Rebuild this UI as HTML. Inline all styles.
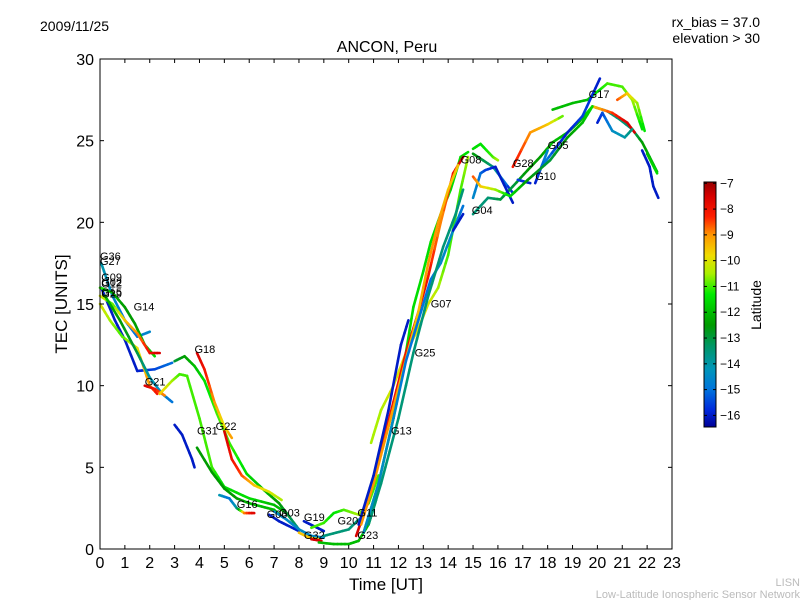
<!DOCTYPE html>
<html><head><meta charset="utf-8"><style>
body{margin:0;background:#fff;}
svg{display:block;font-family:"Liberation Sans","DejaVu Sans",sans-serif;}
</style></head><body>
<svg id="chart" width="800" height="600" viewBox="0 0 800 600">
<text x="40" y="31" font-size="14">2009/11/25</text>
<text x="760" y="27" font-size="14" text-anchor="end">rx_bias = 37.0</text>
<text x="760" y="43" font-size="14" text-anchor="end">elevation &gt; 30</text>
<text x="387" y="52" font-size="16" text-anchor="middle">ANCON, Peru</text>
<text x="386" y="590" font-size="17" text-anchor="middle">Time [UT]</text>
<text x="67" y="304" font-size="17" text-anchor="middle" transform="rotate(-90 67 304)">TEC [UNITS]</text>
<text x="761" y="305" font-size="14" text-anchor="middle" transform="rotate(-90 761 305)">Latitude</text>
<text x="800" y="586" font-size="11" fill="#bbb" text-anchor="end">LISN</text>
<text x="800" y="598" font-size="11" fill="#bbb" text-anchor="end">Low-Latitude Ionospheric Sensor Network</text>
<g id="marks"></g>
<g id="axes"></g>
<g id="cbar"></g>
</svg>
<script>
const xTicks=[0,1,2,3,4,5,6,7,8,9,10,11,12,13,14,15,16,17,18,19,20,21,22,23];
const yTicks=[0,5,10,15,20,25,30];
const cbTicks=[-7,-8,-9,-10,-11,-12,-13,-14,-15,-16];
const trackTimes=[
[0.05,0.6,1.0,1.5,2.2,2.9],
[0.05,0.5,1.0,1.5,2.0],
[0,0.5,1.0,1.4,1.8,2.2],
[0,0.5,1.0,1.5,2.0,2.4],
[0,0.4,0.9,1.5,2.0,2.3],
[0.2,0.8,1.5,2.0,2.5,2.9],
[1.8,2.2,2.6],
[2.4,2.9,3.2,3.5,4.0,4.5,5.0,6.0,7.0,7.5],
[3.0,3.4,3.8,4.2,4.7,5.2,5.9,6.6,7.2,7.6,8.0],
[3.9,4.2,4.6,5.0,5.3],
[3.0,3.3,3.7,3.8],
[3.9,4.5,5.0,5.5,6.0,6.5,7.0,7.3],
[5.0,5.3,5.7,6.2,6.8,7.3],
[4.8,5.2,5.5,5.8,6.2],
[6.8,7.2,7.6,8.0],
[7.0,7.5,8.0,8.5,9.0],
[8.2,8.6,9.0],
[8.5,9.0,9.4,9.8,10.4,10.8,11.2],
[8.0,8.4,8.8],
[8.5,8.9],
[9.0,9.5,10.0,10.4],
[8.8,9.4,10.0,10.4,10.8,11.1],
[10.9,11.3,11.8,12.3,12.8,13.2,13.6,14.0,14.5,14.8],
[10.6,11.2,11.8,12.3,12.6,13.0,13.3,13.7,14.1,14.5,14.8],
[10.3,10.8,11.2,11.8,12.3,12.8,13.2,13.7,14.2,14.6],
[10.5,11.0,11.6,12.2,12.8,13.2,13.6,14.0,14.4],
[10.4,11.0,11.6,12.1,12.4],
[10.6,11.2,11.8,12.3,12.8,13.3,13.7,14.2,14.6],
[10.8,11.3,12.0,12.6,13.2,13.8,14.3,14.6],
[14.2,14.6],
[15.0,15.3,15.8,16.0],
[15.0,15.8,16.6],
[15.0,15.6,16.1,16.6,17.2,17.7,18.2,18.8,19.3,19.8,20.4,20.9,21.4,21.8,22.4],
[16.6,17.3,18.0,18.6],
[18.2,19.0,19.6,20.4,21.0,21.4,21.8],
[19.8,20.6,21.2,21.5],
[20.8,21.2,21.6,21.9],
[20.0,20.2,20.6,21.1,21.4],
[17.8,18.3,18.8,19.4,20.1],
[21.8,22.1,22.25,22.45],
[22.0,22.4],
[15.0,15.3,15.5,15.9,16.6],
[16.8,17.3],
[17.5,17.7,18.0],
[15.0,15.3,15.9,16.5,17.2,18.1,18.8,19.4,19.8]
];
const trackTec=[
[16,14,12.8,10.9,11,11.4],
[17.5,15.5,14,13,13.3],
[16,15.7,14.8,13.8,12.5,11.8],
[15.5,15,14,13.2,12,12],
[15,14,13,12.3,10,9.5],
[15.5,14,12,10.5,9.5,9.0],
[10,9.8,9.4],
[9.5,10.3,10.7,10.6,8,5,3.8,3.1,2.7,2.2],
[11.5,11.8,11.2,10.3,8.3,6.5,4.6,3.6,2.8,2,1.2],
[12,11,9,7.5,6.8],
[7.6,7.0,5.5,5],
[6.2,4.7,3.7,3.1,2.8,2.6,2.4,2.0],
[7.2,5.5,4.5,3.9,3.5,3.0],
[3.3,3.1,2.5,2.2,2.2],
[2.1,1.7,1.4,1.1],
[2.3,1.8,1.2,0.8,0.7],
[1.7,1.4,1.1],
[1.3,1.6,2.2,2.4,2.1,2.8,4.5],
[1.0,0.7,0.6],
[0.6,0.5],
[0.8,1.0,1.2,1.8],
[0.4,0.3,0.3,0.5,1.5,3],
[6.5,8.5,10,12,13.5,15,16,18,22,24],
[1,4,8,12,14.8,17,18.8,20.5,22,24,24.3],
[0.8,3,5.5,9,12,14.5,16.7,20,23,24],
[1.5,4,7.5,11,14.5,17.5,20,22,23.5],
[1.5,4.5,8.5,12.5,14],
[1,4,8,11.5,14,16.5,17.5,19.5,21],
[1.5,4,8,12,15.5,18.5,20.5,22],
[19.5,20.5],
[24.5,24.8,24,23.8],
[24.2,23.4,21.8],
[20.5,21.5,21.4,22.2,23.2,24,24.9,25.5,26.2,27.1,26.8,26.3,25.7,24.9,23.1],
[23.4,25.5,26,26.5],
[26.9,27.3,27.5,28.5,28.3,27.5,25.7],
[27.1,26.7,26.1,25.5],
[27.5,27.9,27.3,25.6],
[26.1,26.7,25.6,25.2,25.7],
[23.5,24.5,25.5,26.5,28.8],
[24.4,23.4,22.2,21.5],
[24.2,23],
[21.5,23,23.2,23.4,21.2],
[22.6,22.4],
[22.4,23.2,24.4],
[22.8,22.2,22,21.6,22.6,23.8,25.2,26.1,27.1]
];
const trackLat=[
[-16,-16,-16,-16,-15.5,-15],
[-14,-14.5,-15,-15,-14.5],
[-11,-12,-12.5,-12.5,-12,-11.5],
[-10,-11,-9.5,-9,-8,-7.5],
[-10,-10.5,-11,-10,-9,-8],
[-12,-12.5,-13,-14,-14.5,-15],
[-7.5,-8,-9],
[-9.5,-10.5,-11,-11,-11,-11,-11.5,-11.5,-12,-12],
[-13,-12.5,-12,-11.5,-11,-11,-11.5,-12,-12.5,-13,-13.5],
[-7.5,-8,-9,-10,-9],
[-16,-16,-16,-16],
[-12.5,-12.5,-12.5,-12.5,-12,-12,-12,-12],
[-7.5,-8,-8.5,-9.5,-10,-10.5],
[-14,-15,-14,-9,-7.5],
[-16,-16,-16,-16],
[-14.5,-14.5,-14.5,-14.5,-14.5],
[-16,-16,-16],
[-11,-11,-11.5,-11,-10.5,-11,-11],
[-9.5,-9.5,-9.5],
[-7.5,-7.5],
[-13.5,-13.5,-13.5,-13.5],
[-12,-12,-12,-12,-12,-12],
[-10.5,-10.5,-10,-10,-10,-10,-10.5,-11,-11,-10.5],
[-11.5,-11.5,-11.5,-11.5,-11.5,-11.5,-11.5,-11.5,-11.5,-11.5,-11.5],
[-7.5,-7.5,-8,-8,-8,-7.5,-8,-9,-8,-7.5],
[-9,-9,-9,-9.5,-9.5,-9,-9,-9.5,-9.5],
[-16,-16,-16,-16,-16],
[-14.5,-14.5,-14.5,-15,-15,-15,-14.5,-14.5,-15],
[-13.5,-13.5,-13.5,-13.5,-13.5,-13.5,-13.5,-13.5],
[-16,-16],
[-11.5,-11.5,-11,-10.5],
[-12.5,-13.5,-16],
[-13.5,-13.5,-13,-13,-12.5,-12.5,-12,-12,-12,-11.5,-13.5,-13.5,-13.5,-12.5,-12],
[-8,-9,-9.5,-11],
[-12,-12,-12,-11,-11,-10.5,-11.5],
[-9.5,-8.5,-7.5,-7.5],
[-8.5,-9.5,-10.5,-11.5],
[-16,-15.5,-14.5,-14,-13.5],
[-14.5,-15.5,-16,-15.5,-16],
[-16,-16,-16,-16],
[-12,-11.5],
[-14.5,-15,-15.5,-16,-16],
[-15.5,-16],
[-16,-15.5,-14.5],
[-8.5,-9.5,-10.5,-11.5,-12.5,-13,-12.5,-12,-11.5]
];
const labelNames=["G36","G27","G09","G12","G02","G29","G15","G14","G18","G21","G31","G22","G16","G06","G03","G19","G32","G20","G11","G23","G13","G25","G07","G08","G04","G28","G05","G10","G17"];
const labelTimes=[0.0,0.0,0.05,0.05,0.05,0.05,0.05,1.35,3.8,1.8,3.9,4.65,5.5,6.7,7.2,8.2,8.2,9.55,10.35,10.35,11.7,12.65,13.3,14.5,14.95,16.6,18.0,17.5,19.65];
const labelTec=[17.7,17.4,16.4,16.0,16.1,15.4,15.5,14.6,12.0,10.0,7.0,7.3,2.5,1.9,2.0,1.7,0.6,1.5,2.0,0.6,7.0,11.8,14.8,23.6,20.5,23.4,24.5,22.6,27.6];

const NS='http://www.w3.org/2000/svg';
const X0=100,X1=672,Y0=549,Y1=59;
const xs=t=>X0+(t/23)*(X1-X0);
const ys=v=>Y0-(v/30)*(Y0-Y1);
const LMIN=-16.45,LMAX=-6.95;
const cmapStops=[[-6.95,150,0,0],[-7.5,215,0,0],[-8.3,255,30,0],[-9.0,255,150,0],[-9.8,240,220,0],[-10.5,170,240,0],[-11.3,0,235,0],[-12.5,0,155,0],[-13.3,0,150,100],[-14.2,0,150,185],[-15.0,0,115,220],[-15.8,0,40,220],[-16.45,0,0,150]];
function jet(lat){
  if(lat>=cmapStops[0][0])return `rgb(${cmapStops[0][1]},${cmapStops[0][2]},${cmapStops[0][3]})`;
  for(let i=0;i<cmapStops.length-1;i++){
    const a=cmapStops[i],b=cmapStops[i+1];
    if(lat<=a[0]&&lat>=b[0]){const f=(a[0]-lat)/(a[0]-b[0]);
      return `rgb(${Math.round(a[1]+(b[1]-a[1])*f)},${Math.round(a[2]+(b[2]-a[2])*f)},${Math.round(a[3]+(b[3]-a[3])*f)})`;}
  }
  const z=cmapStops[cmapStops.length-1];return `rgb(${z[1]},${z[2]},${z[3]})`;
}
function mk(tag,attrs,parent){const e=document.createElementNS(NS,tag);for(const k in attrs)e.setAttribute(k,attrs[k]);parent.appendChild(e);return e;}

const marks=document.getElementById('marks');
for(let i=0;i<trackTimes.length;i++){
  const g=mk('g',{},marks);
  
  
  const T=trackTimes[i],V=trackTec[i],L=trackLat[i];
  for(let j=0;j<T.length-1;j++){
    const steps=4;
    for(let s=0;s<steps;s++){
      const a=s/steps,b=(s+1)/steps;
      const l=mk('line',{x1:xs(T[j]+(T[j+1]-T[j])*a),y1:ys(V[j]+(V[j+1]-V[j])*a),x2:xs(T[j]+(T[j+1]-T[j])*b),y2:ys(V[j]+(V[j+1]-V[j])*b),stroke:jet(L[j]+(L[j+1]-L[j])*(a+b)/2),'stroke-width':2.6,'stroke-linecap':'round'},g);
      
      
    }
  }
}
for(let i=0;i<labelNames.length;i++){
  const t=mk('text',{x:xs(labelTimes[i]),y:ys(labelTec[i]),'font-size':11,fill:'#000'},marks);
  t.textContent=labelNames[i];
  
  
}

const axes=document.getElementById('axes');
const frame=mk('rect',{x:X0,y:Y1,width:X1-X0,height:Y0-Y1,fill:'none',stroke:'#000','stroke-width':1},axes);


xTicks.forEach(t=>{
  const x=xs(t);
  const a=mk('line',{x1:x,y1:Y0,x2:x,y2:Y0-4,stroke:'#000'},axes);
  
  
  mk('line',{x1:x,y1:Y1,x2:x,y2:Y1+4,stroke:'#000'},axes);
  const tx=mk('text',{x:x,y:Y0+19,'font-size':16,'text-anchor':'middle'},axes);
  tx.textContent=t;
  
  
});
yTicks.forEach(v=>{
  const y=ys(v);
  const a=mk('line',{x1:X0,y1:y,x2:X0+4,y2:y,stroke:'#000'},axes);
  
  
  mk('line',{x1:X1,y1:y,x2:X1-4,y2:y,stroke:'#000'},axes);
  const tx=mk('text',{x:X0-6,y:y+6,'font-size':16,'text-anchor':'end'},axes);
  tx.textContent=v;
  
  
});

const cb=document.getElementById('cbar');
const CX=704,CW=12,CT=182,CB=427;
const cyOf=l=>CT+(LMAX-l)/(LMAX-LMIN)*(CB-CT);
for(let y=CT;y<CB;y++){
  const lat=LMAX-(y+0.5-CT)/(CB-CT)*(LMAX-LMIN);
  mk('rect',{x:CX,y:y,width:CW,height:1.2,fill:jet(lat)},cb);
}
const cbf=mk('rect',{x:CX,y:CT,width:CW,height:CB-CT,fill:'none',stroke:'#000'},cb);


cbTicks.forEach(l=>{
  const y=cyOf(l);
  mk('line',{x1:CX,y1:y,x2:CX+3,y2:y,stroke:'#000'},cb);
  mk('line',{x1:CX+CW,y1:y,x2:CX+CW-3,y2:y,stroke:'#000'},cb);
  const tx=mk('text',{x:CX+CW+4,y:y+4,'font-size':12},cb);
  tx.textContent='\u2212'+Math.abs(l);
  
  
});
</script>
</body></html>
